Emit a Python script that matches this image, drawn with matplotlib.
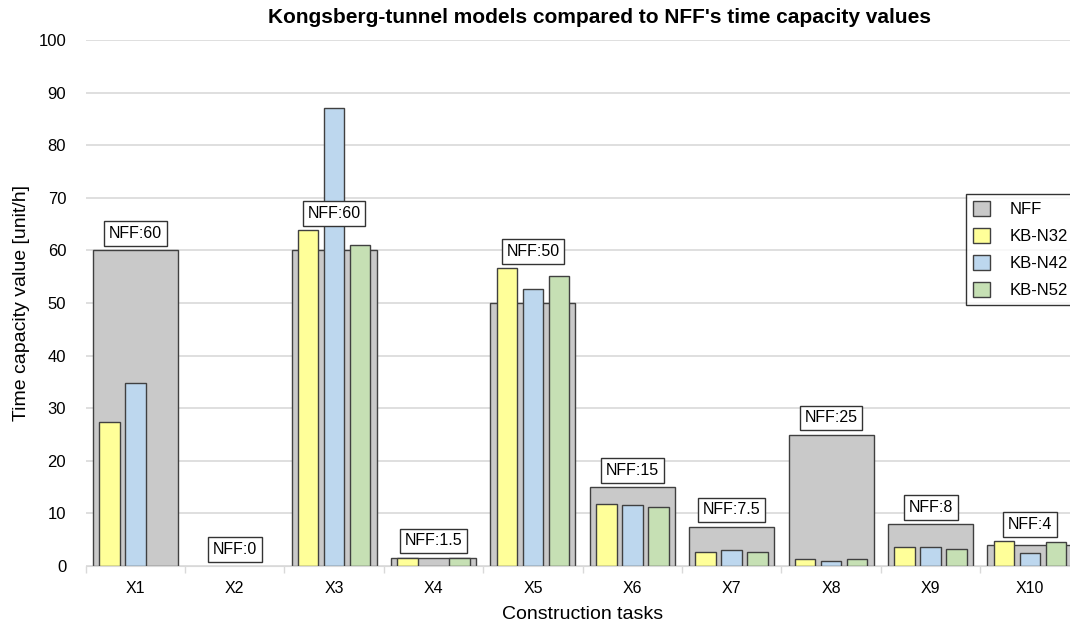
import numpy as np
import matplotlib.pyplot as plt

plt.rcParams['font.family'] = ['Liberation Sans', 'DejaVu Sans']

tasks = ['X1', 'X2', 'X3', 'X4', 'X5', 'X6', 'X7', 'X8', 'X9', 'X10']
nff = [60, 0, 60, 1.5, 50, 15, 7.5, 25, 8, 4]
nff_labels = ['60', '0', '60', '1.5', '50', '15', '7.5', '25', '8', '4']
kb_n32 = [27.4, np.nan, 63.8, 1.6, 56.6, 11.8, 2.7, 1.4, 3.6, 4.7]
kb_n42 = [34.8, np.nan, 87.1, np.nan, 52.7, 11.6, 3.1, 1.0, 3.7, 2.5]
kb_n52 = [np.nan, np.nan, 61.0, 1.6, 55.2, 11.3, 2.7, 1.4, 3.3, 4.5]


def main():
    fig = plt.figure(figsize=(10.7, 6.28), dpi=100)
    ax = fig.add_axes([0.080, 0.0987, 0.929, 0.8376])

    x = np.arange(len(tasks))
    edge = '#404040'
    bars = ax.bar(x, nff, width=0.855, color='#c9c9c9', edgecolor=edge, lw=1, label='NFF', zorder=2)
    # a zero-height bar shows no outline in the original
    for b, v in zip(bars, nff):
        if v == 0:
            b.set_linewidth(0)
    w = 0.207
    off = 0.262
    ax.bar(x - off, kb_n32, width=w, color='#ffff99', edgecolor=edge, lw=1, label='KB-N32', zorder=3)
    ax.bar(x, kb_n42, width=w, color='#bdd7ee', edgecolor=edge, lw=1, label='KB-N42', zorder=3)
    ax.bar(x + off, kb_n52, width=w, color='#c6e0b4', edgecolor=edge, lw=1, label='KB-N52', zorder=3)

    # NFF value boxes above the bars
    for i, lab in enumerate(nff_labels):
        top = np.nanmax([nff[i], kb_n32[i]])
        ax.annotate('NFF:' + lab, (x[i], top), xytext=(0, 12), textcoords='offset points',
                    ha='center', va='center', fontsize=11.5, zorder=5,
                    bbox=dict(boxstyle='square,pad=0.3', fc='white', ec='#333333', lw=1))

    ax.set_xlim(-0.5, len(tasks) - 0.5)
    ax.set_ylim(0, 100)
    ax.set_yticks(np.arange(0, 101, 10))
    ax.set_xticks(x)
    ax.set_xticklabels(tasks)
    ax.set_xticks(np.arange(-0.5, len(tasks), 1), minor=True)
    ax.tick_params(axis='x', which='major', length=0, labelsize=11.5, pad=11)
    ax.tick_params(axis='x', which='minor', length=5, color='#d9d9d9', width=1)
    ax.tick_params(axis='y', length=0, labelsize=12, pad=14)
    ax.grid(axis='y', color='#d9d9d9', lw=1.2, zorder=0)
    ax.set_axisbelow(True)
    for s in ['top', 'right', 'left']:
        ax.spines[s].set_visible(False)
    ax.spines['bottom'].set_color('#d9d9d9')

    ax.set_xlabel('Construction tasks', fontsize=14, labelpad=7)
    ax.set_ylabel('Time capacity value [unit/h]', fontsize=14, labelpad=6)
    fig.text(0.56, 0.972, "Kongsberg-tunnel models compared to NFF's time capacity values",
             ha='center', va='center', fontsize=15, fontweight='bold')

    leg = ax.legend(loc='upper left', bbox_to_anchor=(0.903, 0.691), bbox_transform=fig.transFigure,
                    borderaxespad=0, fontsize=12, handlelength=1.0, handleheight=1.0,
                    labelspacing=0.65, handletextpad=1.2, fancybox=False, borderpad=0.4)
    leg.get_frame().set_edgecolor('black')
    leg.get_frame().set_linewidth(1)

    fig.savefig('out.png', dpi=100)


if __name__ == "__main__":
    main()
